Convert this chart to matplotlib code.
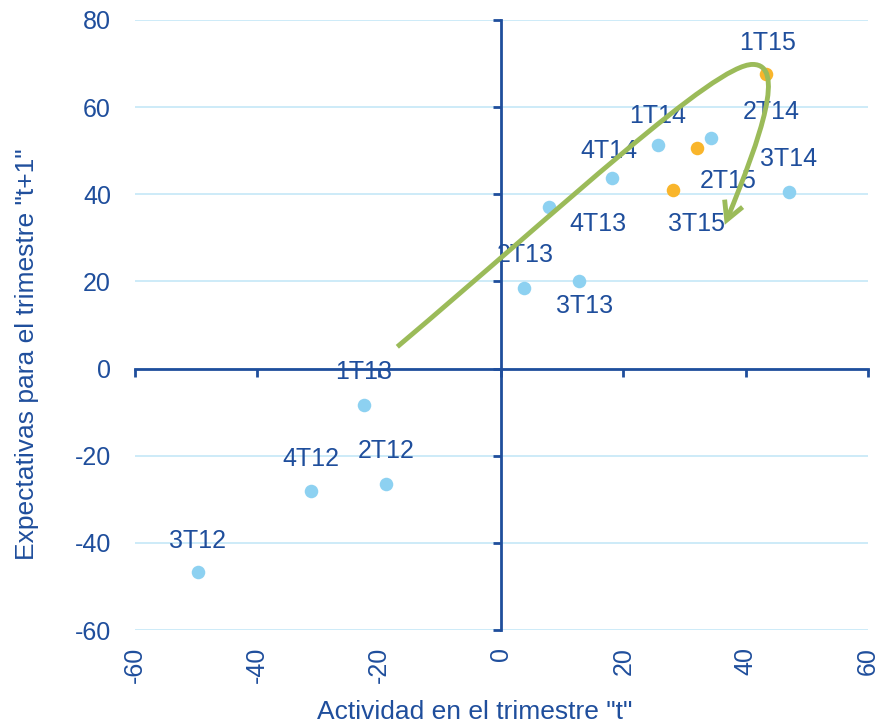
import numpy as np
import matplotlib.pyplot as plt
from matplotlib.path import Path
from matplotlib.patches import FancyArrowPatch

# ==========================================
# Data
# ==========================================
labels_prev = ['3T12', '4T12', '2T12', '1T13', '2T13', '3T13', '4T13',
               '4T14', '1T14', '2T14', '3T14']
x_prev = [-49.7, -31.2, -18.9, -22.5, 3.7, 12.7, 7.8, 18.1, 25.6, 34.3, 47.1]
y_prev = [-46.6, -28.0, -26.6, -8.3, 18.4, 20.0, 37.0, 43.8, 51.4, 53.0, 40.6]

labels_2015 = ['1T15', '2T15', '3T15']
x_2015 = [43.3, 32.0, 28.2]
y_2015 = [67.5, 50.7, 40.9]

# label offsets in pixels (dx, dy), same order as the series above
off_prev = [(0, 31), (0, 32), (0, 33), (0, 33), (1, 33), (6, -25), (49, -17),
            (-3, 27), (0, 29), (61, 26), (0, 33)]
off_2015 = [(2, 31), (32, -33), (23, -34)]

# green trend arrow (bezier control points, data coords)
arrow_pts = [(-17, 5), (10, 37), (35, 70), (41.2, 69.8),
             (46.5, 69.8), (42.8, 54.0), (36.6, 33.0)]

blue_txt = '#1f4e9c'
axis_col = '#1f4e9c'
grid_col = '#c5e8f7'
pt_blue = '#8dd1f1'
pt_orange = '#f9b52b'
green = '#9bbb59'

plt.rcParams.update({'font.family': 'Liberation Sans', 'font.size': 18,
                     'axes.unicode_minus': False})

fig = plt.figure(figsize=(8.8, 7.27), dpi=100)
pos = [0.153, 0.1334, 0.833, 0.8391]
ax = fig.add_axes(pos)
ax.set_xlim(-60, 60)
ax.set_ylim(-60, 80)
ax.set_xticks(np.arange(-60, 61, 20))
ax.set_yticks(np.arange(-60, 81, 20))
ax.tick_params(axis='y', length=0, colors=blue_txt, labelsize=18, pad=17)
ax.tick_params(axis='x', length=0, colors=blue_txt, labelsize=18, pad=12)
for lab in ax.get_xticklabels():
    lab.set_rotation(90)
ax.grid(axis='y', color=grid_col, linewidth=1.2)
ax.set_axisbelow(True)
for s in ax.spines.values():
    s.set_visible(False)
ax.set_xlabel('Actividad en el trimestre "t"', color=blue_txt, fontsize=19, labelpad=12)
ax.set_ylabel('Expectativas para el trimestre "t+1"', color=blue_txt, fontsize=19, labelpad=26)
ax.xaxis.label.set_x(0.464)
ax.yaxis.label.set_y(0.4525)

# axes crossing at the origin
ax0 = fig.add_axes(pos, sharex=ax, sharey=ax)
ax0.patch.set_visible(False)
ax0.spines['left'].set_position(('data', 0))
ax0.spines['bottom'].set_position(('data', 0))
ax0.spines['right'].set_visible(False)
ax0.spines['top'].set_visible(False)
for side in ('left', 'bottom'):
    ax0.spines[side].set_color(axis_col)
    ax0.spines[side].set_linewidth(2)
ax0.tick_params(direction='out', length=6, width=2, color=axis_col,
                labelleft=False, labelbottom=False)

ax0.scatter(x_prev, y_prev, s=95, color=pt_blue, zorder=3, linewidths=0)
ax0.scatter(x_2015, y_2015, s=95, color=pt_orange, zorder=3, linewidths=0)

for lab, xv, yv, (dx, dy) in zip(labels_prev + labels_2015, x_prev + x_2015,
                                  y_prev + y_2015, off_prev + off_2015):
    ax0.annotate(lab, (xv, yv), xytext=(dx * 0.72, dy * 0.72), textcoords='offset points',
                 ha='center', va='center', color=blue_txt, fontsize=18, zorder=4)

codes = [Path.MOVETO] + [Path.CURVE4] * 6
arr = FancyArrowPatch(path=Path(arrow_pts, codes),
                      arrowstyle='->,head_length=0.65,head_width=0.35',
                      mutation_scale=20, color=green, linewidth=3.5,
                      capstyle='butt', joinstyle='miter', zorder=5)
ax0.add_patch(arr)

fig.savefig('out.png', dpi=100)
